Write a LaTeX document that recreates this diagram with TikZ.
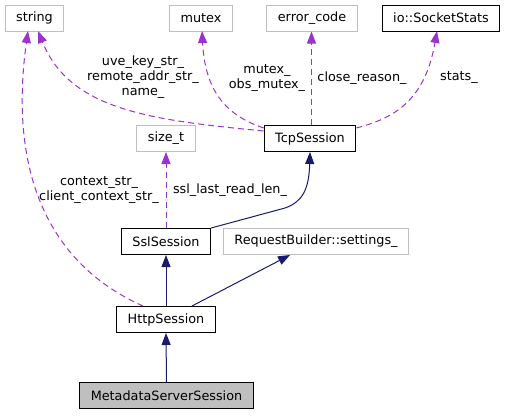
\documentclass[tikz,border=0pt]{standalone}
\usepackage{fontspec}
\setmainfont{DejaVu Sans}
\usepackage{tikz}
\usetikzlibrary{arrows.meta, positioning, calc}

\definecolor{usecolor}{HTML}{9A32CD}
\definecolor{basecolor}{HTML}{191970}
\definecolor{extgray}{HTML}{BFBFBF}

\begin{document}
\begin{tikzpicture}[
    x=1pt, y=-1pt,
    font=\fontsize{12.8}{15}\selectfont,
    cls/.style={draw=black, line width=1pt, rectangle, fill=white, minimum height=26pt, inner xsep=11pt, inner ysep=0pt},
    extcls/.style={cls, draw=extgray},
    maincls/.style={cls, fill=extgray},
    inherit/.style={-{Triangle[length=12pt, width=9pt]}, draw=basecolor, line width=1pt},
    member/.style={-{Triangle[length=12pt, width=9pt]}, draw=usecolor, line width=1pt, dash pattern=on 6pt off 4pt},
    lbl/.style={align=center, inner sep=0pt}
]
    \useasboundingbox (0,0) rectangle (507,416);

    % Nodes
    \node[extcls] (str) at (34.5,18) {string};
    \node[extcls] (mtx) at (201,18) {mutex};
    \node[extcls] (err) at (312,18) {error\_code};
    \node[cls] (stats) at (441,18) {io::SocketStats};
    \node[cls] (tcp) at (310,138.5) {TcpSession};
    \node[extcls] (size) at (166,138.5) {size\_t};
    \node[cls] (ssl) at (166,241.5) {SslSession};
    \node[extcls] (rb) at (316,241.5) {RequestBuilder::settings\_};
    \node[cls] (http) at (166,319.5) {HttpSession};
    \node[maincls] (meta) at (166.5,395.5) {MetadataServerSession};

    % Labels
    \node[lbl] (lblstr) at (143,77.5) {uve\_key\_str\_\\remote\_addr\_str\_\\name\_};
    \node[lbl] (lblctx) at (99,189.7) {context\_str\_\\client\_context\_str\_};
    \node[lbl] (lblmtx) at (267,78) {mutex\_\\obs\_mutex\_};
    \node[lbl] (lblerr) at (362,77.7) {close\_reason\_};
    \node[lbl] (lblstats) at (459,77.7) {stats\_};
    \node[lbl] (lblsize) at (230,190) {ssl\_last\_read\_len\_};

    % Arrows
    \draw[member] (tcp.west |- 0,131) .. controls (150,120) and (70,110) .. (38,31);
    \draw[member] (http.north -| 143,0) .. controls (40,260) and (10,160) .. (28,31);
    \draw[member] (tcp.west |- 0,128) .. controls (225,115) and (205,90) .. (202,31);
    \draw[member] (tcp.north -| 311.5,0) -- (err.south -| 311.5,0);
    \draw[member] (tcp.east |- 0,128) .. controls (395,118) and (425,100) .. (437,31);
    \draw[member] (ssl.north) -- (size.south);

    \draw[inherit] (ssl.north east) -- (285,208) .. controls (302,202) and (309,190) .. (tcp.south);
    \draw[inherit] (http) -- (rb);
    \draw[inherit] (http.north) -- (ssl.south);
    \draw[inherit] (meta.north) -- (http.south);
\end{tikzpicture}
\end{document}
